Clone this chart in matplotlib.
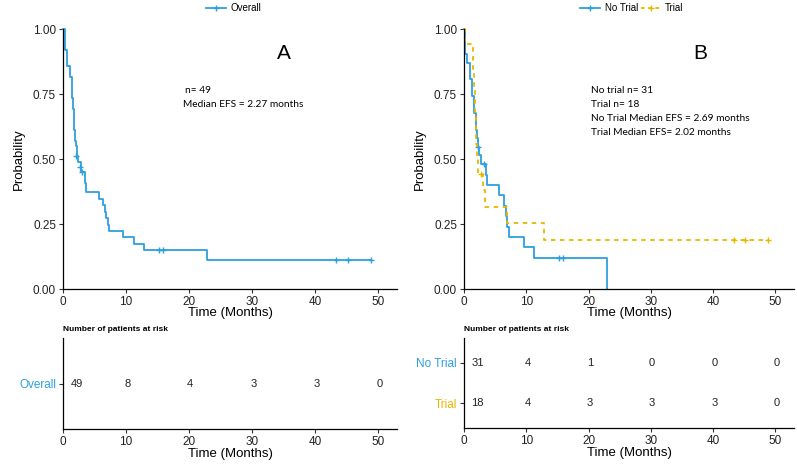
import matplotlib
matplotlib.use("Agg")
import matplotlib.pyplot as plt
from matplotlib.lines import Line2D

plt.rcParams["font.family"] = ["Liberation Sans", "DejaVu Sans"]

BLUE = "#2E9FDF"
ORANGE = "#E7B800"

# ---- panel A: overall EFS (step times / survival)
overall_t = [0, 0.3, 0.6, 1.05, 1.4, 1.5, 1.6, 1.7, 1.8, 1.9, 2.0, 2.15,
             2.45, 2.8, 3.5, 3.7, 5.7, 6.3, 6.7, 6.9, 7.1, 7.3, 9.6, 11.3,
             12.9, 22.9, 48.8]
overall_s = [1.0, 0.918, 0.857, 0.816, 0.776, 0.735, 0.694, 0.653, 0.612,
             0.571, 0.551, 0.510, 0.490, 0.449, 0.408, 0.372, 0.347, 0.322,
             0.298, 0.273, 0.248, 0.224, 0.199, 0.174, 0.149, 0.112, 0.112]
overall_cens_t = [2.1, 2.7, 2.95, 15.2, 15.9, 43.3, 45.2, 48.8]
overall_cens_s = [0.510, 0.469, 0.449, 0.149, 0.149, 0.112, 0.112, 0.112]

# ---- panel B: trial vs no trial
notrial_t = [0, 0.2, 0.5, 0.9, 1.3, 1.55, 1.9, 2.1, 2.2, 2.4, 2.7, 3.5,
             3.7, 5.7, 6.4, 6.8, 6.9, 7.2, 9.6, 11.3, 23.0]
notrial_s = [1.0, 0.903, 0.871, 0.806, 0.742, 0.677, 0.613, 0.581, 0.548,
             0.516, 0.480, 0.440, 0.400, 0.360, 0.320, 0.280, 0.240, 0.200,
             0.160, 0.120, 0.0]
notrial_cens_t = [2.25, 3.2, 15.2, 15.9]
notrial_cens_s = [0.548, 0.480, 0.120, 0.120]

trial_t = [0, 0.2, 1.4, 1.5, 1.6, 1.7, 1.8, 1.9, 2.0, 2.1, 2.3, 3.0, 3.3,
           6.9, 12.8, 48.8]
trial_s = [1.0, 0.944, 0.889, 0.833, 0.778, 0.722, 0.667, 0.611, 0.556,
           0.500, 0.444, 0.381, 0.317, 0.254, 0.190, 0.190]
trial_cens_t = [2.7, 43.3, 45.2, 48.8]
trial_cens_s = [0.444, 0.190, 0.190, 0.190]

# ---- numbers at risk
risk_times = [0, 10, 20, 30, 40, 50]
risk_overall = [49, 8, 4, 3, 3, 0]
risk_notrial = [31, 4, 1, 0, 0, 0]
risk_trial = [18, 4, 3, 3, 3, 0]

W, H = 797, 465
fig = plt.figure(figsize=(W / 100, H / 100), dpi=100)


def px_axes(left, top, right, bottom):
    return fig.add_axes([left / W, 1 - bottom / H, (right - left) / W, (bottom - top) / H])


def style(ax):
    for s in ("top", "right"):
        ax.spines[s].set_visible(False)
    for s in ("left", "bottom"):
        ax.spines[s].set_linewidth(0.9)
    ax.tick_params(length=3, width=0.8, labelsize=8.5, colors="#333333",
                   labelcolor="#222222", pad=2)
    ax.set_xlim(0, 53)
    ax.set_xticks(risk_times)


def km_panel(ax, curves, annot_lines, annot_x, letter, letter_x):
    for t, s, ct, cs, color, ls in curves:
        ax.step(t, s, where="post", color=color, lw=1.3, ls=ls, clip_on=False)
        ax.plot(ct, cs, ls="none", marker="+", ms=5, mew=1, color=color, clip_on=False)
    style(ax)
    ax.set_ylim(0, 1.0)
    ax.set_yticks([0, 0.25, 0.5, 0.75, 1.0], ["0.00", "0.25", "0.50", "0.75", "1.00"])
    ax.set_xlabel("Time (Months)", fontsize=9.5, labelpad=-1)
    ax.set_ylabel("Probability", fontsize=9.5, labelpad=6)
    ax.text(letter_x, 0.905, letter, fontsize=15, ha="center", va="center")
    for i, line in enumerate(annot_lines):
        ax.text(annot_x[i], 0.765 - i * 0.054, line, transform=ax.transAxes,
                fontsize=7.3, family="Lato", va="center")


def risk_panel(ax, rows):
    style(ax)
    n = len(rows)
    ax.set_ylim(0.4, n + 0.6)
    labels = []
    for k, (name, vals, color) in enumerate(rows):
        y = n - k
        for t, v in zip(risk_times, vals):
            x = t + 2.2 if t == 0 else t + 0.2
            ax.text(x, y, str(v), ha="center", va="center", fontsize=8, color="#222222")
        labels.append((y, name, color))
    ax.set_yticks([y for y, _, _ in labels], [nm for _, nm, _ in labels])
    for tl, (_, _, c) in zip(ax.get_yticklabels(), labels):
        tl.set_color(c)
        tl.set_fontsize(8.5)
    ax.set_xlabel("Time (Months)", fontsize=9.5, labelpad=0)
    ax.text(0, 1.06, "Number of patients at risk", transform=ax.transAxes,
            fontsize=6, fontweight="bold", va="bottom")


# panel A
axA = px_axes(63, 29, 397, 289)
km_panel(axA, [(overall_t, overall_s, overall_cens_t, overall_cens_s, BLUE, "-")],
         ["n= 49", "Median EFS = 2.27 months"], [0.366, 0.359], "A", 35)
rA = px_axes(63, 338, 397, 429)
risk_panel(rA, [("Overall", risk_overall, BLUE)])

# panel B
axB = px_axes(464, 29, 794, 289)
km_panel(axB, [(notrial_t, notrial_s, notrial_cens_t, notrial_cens_s, BLUE, "-"),
               (trial_t, trial_s, trial_cens_t, trial_cens_s, ORANGE, (0, (2.5, 2.5)))],
         ["No trial n= 31", "Trial n= 18", "No Trial Median EFS = 2.69 months",
          "Trial Median EFS= 2.02 months"], [0.385] * 4, "B", 38)
rB = px_axes(464, 338, 794, 428)
risk_panel(rB, [("No Trial", risk_notrial, BLUE), ("Trial", risk_trial, ORANGE)])


# legends at the top
def top_legend(names, styles, cx):
    handles = [Line2D([], [], color=c, ls=ls, lw=1.3, marker="+", ms=5, mew=1)
               for c, ls in styles]
    fig.legend(handles, names, loc="center", bbox_to_anchor=(cx / W, 1 - 8 / H),
               ncol=len(handles), frameon=False, fontsize=7, handlelength=2,
               handletextpad=0.5, columnspacing=0.3, borderaxespad=0)


top_legend(["Overall"], [(BLUE, "-")], 234)
top_legend(["No Trial", "Trial"], [(BLUE, "-"), (ORANGE, (0, (2, 2)))], 632)

fig.savefig("out.png", dpi=100)
